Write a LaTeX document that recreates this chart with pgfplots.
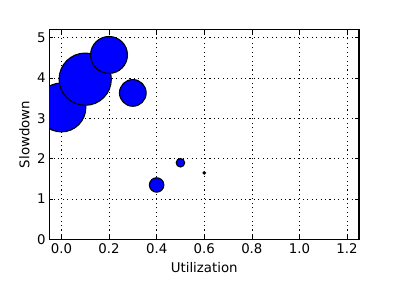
\documentclass[border=0pt]{standalone}
\usepackage{pgfplots}
\pgfplotsset{compat=1.18}
\usepackage{fontspec}
\setmainfont{DejaVu Sans}
\pgfplotstableread{
x    y     r
0.0  3.27  22.0
0.1  3.97  23.5
0.2  4.57  16.6
0.3  3.63  12.0
0.4  1.35  6.5
0.5  1.90  3.8
0.6  1.65  1.0
}\bubbles
\begin{document}
\begin{tikzpicture}
\useasboundingbox (-44.55pt,-54.45pt) rectangle (315.45pt,215.55pt);
\begin{axis}[
  at={(0,0)}, anchor=south west,
  scale only axis, width=278.55pt, height=189pt,
  xmin=-0.05, xmax=1.25, ymin=0, ymax=5.2,
  xtick={0,0.2,0.4,0.6,0.8,1.0,1.2},
  xticklabels={0.0,0.2,0.4,0.6,0.8,1.0,1.2},
  ytick={0,1,2,3,4,5},
  yticklabels={0,1,2,3,4,5},
  tick align=inside,
  major tick length=3.6pt,
  tick style={black, line width=0.5pt},
  axis line style={black, line width=1pt},
  grid=major,
  major grid style={black, line width=0.5pt, dash pattern=on 1pt off 3pt},
  ticklabel style={font=\fontsize{12}{14}\selectfont},
  label style={font=\fontsize{12}{14}\selectfont},
  xlabel={Utilization},
  xlabel style={yshift=-1.5pt},
  ylabel={Slowdown},
  clip marker paths=true,
]
\addplot[
  scatter, only marks, mark=*,
  line width=1pt,
  scatter/use mapped color={draw=black, fill=blue},
  visualization depends on={\thisrow{r} \as \rr},
  scatter/@pre marker code/.append style={/tikz/mark size=\rr pt},
] table[x=x, y=y] {\bubbles};
\end{axis}
\end{tikzpicture}
\end{document}
